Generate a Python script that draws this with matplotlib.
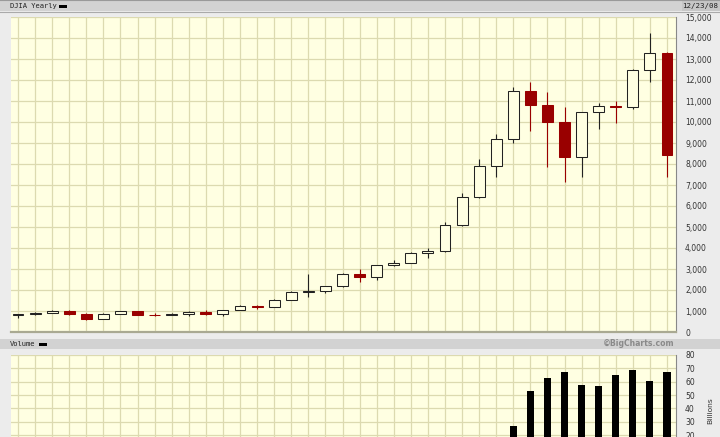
"""
DJIA anual (velas) con panel de volumen, estilo BigCharts.
"""

import matplotlib
matplotlib.use('Agg')
import matplotlib.pyplot as plt
import matplotlib.patches as mpatches
import numpy as np

# *** Datos ***
years = list(range(1970, 2009))

opens  = [800, 839, 890, 1020, 851, 616, 852, 1005, 831, 805,
          839, 964, 875, 1047, 1259, 1212, 1547, 1896, 1939, 2169,
          2753, 2634, 3169, 3301, 3754, 3834, 5117, 6448, 7908, 9181,
          11497, 10787, 10021, 8342, 10454, 10783, 10718, 12463, 13265]
highs  = [842, 950, 1036, 1052, 892, 882, 1015, 1005, 908, 898,
          1000, 1024, 1071, 1287, 1287, 1553, 1956, 2747, 2184, 2810,
          3016, 3190, 3429, 3794, 4016, 5230, 6619, 8259, 9430, 11650,
          11900, 11430, 10714, 10460, 10920, 10985, 12524, 14254, 13320]
lows   = [670, 790, 889, 788, 577, 600, 850, 800, 742, 797,
          759, 824, 770, 1028, 1087, 1185, 1502, 1652, 1843, 2140,
          2365, 2460, 3137, 3270, 3540, 3830, 5032, 6391, 7370, 8990,
          9550, 7870, 7157, 7397, 9650, 9937, 10619, 11890, 7365]
closes = [839, 890, 1020, 851, 616, 852, 1005, 831, 805, 839,
          964, 875, 1047, 1259, 1212, 1547, 1896, 1939, 2169, 2753,
          2634, 3169, 3301, 3754, 3834, 5117, 6448, 7908, 9181, 11497,
          10787, 10021, 8342, 10454, 10783, 10718, 12463, 13265, 8419]

# volumen en miles de millones (los anteriores a 1999 quedan fuera del recorte)
volumes = [0.5, 0.6, 0.7, 0.7, 0.7, 0.8, 1.0, 1.0, 1.2, 1.3,
           1.6, 1.7, 2.1, 2.5, 2.6, 3.0, 3.8, 4.6, 4.0, 4.2,
           4.3, 4.6, 5.1, 6.3, 6.8, 7.6, 9.3, 11.5, 14.0, 26.8,
           53.0, 62.5, 67.0, 57.5, 56.8, 64.8, 68.5, 60.8, 67.5]

price_ticks   = list(range(0, 15001, 1000))
volume_ticks  = list(range(0, 81, 10))
volume_labels = ["", "", "20", "30", "40", "50", "60", "70", "80"]

title_text  = "DJIA Yearly"
date_text   = "12/23/08"
volume_text = "Volume"
brand_text  = "©BigCharts.com"
unit_text   = "Billions"

# *** Estilo ***
W, H = 720, 437
BG      = "#ffffe2"
GRID    = "#dcdab0"
RED     = "#990000"
DARK    = "#222222"
PANEL   = "#ececec"
BAR     = "#d2d2d2"
TXT     = "#333333"


def fx(px):
    return px / W


def fy(py):
    return 1 - py / H


def axes_px(fig, left, top, right, bottom):
    return fig.add_axes([fx(left), fy(bottom), (right - left) / W, (bottom - top) / H])


fig = plt.figure(figsize=(W / 100, H / 100), dpi=100)
fig.patch.set_facecolor(PANEL)

# Barras de encabezado
fig.add_artist(mpatches.Rectangle((0, fy(11)), 1, 11 / H, transform=fig.transFigure,
                                  facecolor=BAR, edgecolor="none", zorder=0))
fig.add_artist(mpatches.Rectangle((fx(682), fy(11)), 38 / W, 11 / H, transform=fig.transFigure,
                                  facecolor="#c6c6c6", edgecolor="none", zorder=0))
fig.add_artist(plt.Line2D([0, 1], [fy(11.5), fy(11.5)], transform=fig.transFigure,
                          color="#aaaaaa", lw=0.8))
fig.add_artist(plt.Line2D([0, 1], [fy(0.3), fy(0.3)], transform=fig.transFigure,
                          color="#999999", lw=0.8))
fig.add_artist(mpatches.Rectangle((0, fy(349)), 1, 10 / H, transform=fig.transFigure,
                                  facecolor=BAR, edgecolor="none", zorder=0))

x = np.arange(len(years))
o = np.array(opens)
c = np.array(closes)
down = c < o

# *** Panel de precio ***
ax = axes_px(fig, 11, 17, 676, 332)
ax.set_facecolor(BG)
ax.set_xlim(-7 / 17.08, len(years) - 1 + 9 / 17.08)
ax.set_ylim(0, 15000)
ax.set_xticks(x)
ax.set_yticks(price_ticks)
ax.grid(True, color=GRID, lw=0.9, zorder=0)
ax.tick_params(length=0, labelbottom=False, labelleft=False, labelright=True,
               pad=6.5, labelsize=5.5, labelcolor=TXT)
ax.yaxis.set_ticks_position("right")
ax.set_yticklabels([f"{v:,}" for v in price_ticks])
for s in ("top", "left"):
    ax.spines[s].set_visible(False)
ax.spines["bottom"].set_color("#a9a992")
ax.spines["bottom"].set_linewidth(1.6)
ax.spines["right"].set_color("#888888")
ax.spines["right"].set_linewidth(0.8)

wick_col = [RED if d else DARK for d in down]
ax.vlines(x, lows, highs, colors=wick_col, lw=0.8, zorder=2)
body_bottom = np.minimum(o, c)
body_h = np.abs(c - o)
ax.bar(x, body_h, bottom=body_bottom, width=0.64,
       color=[RED if d else BG for d in down],
       edgecolor=wick_col, linewidth=0.75, zorder=3)

# *** Panel de volumen ***
av = axes_px(fig, 11, 355, 676, 461.7)
av.set_facecolor(BG)
av.set_xlim(ax.get_xlim())
av.set_ylim(0, 80)
av.set_xticks(x)
av.set_yticks(volume_ticks)
av.set_yticklabels(volume_labels)
av.grid(True, color=GRID, lw=0.9, zorder=0)
av.tick_params(length=0, labelbottom=False, labelleft=False, labelright=True,
               pad=6.5, labelsize=5.5, labelcolor=TXT)
av.yaxis.set_ticks_position("right")
for s in ("top", "left", "bottom"):
    av.spines[s].set_visible(False)
av.spines["right"].set_color("#888888")
av.spines["right"].set_linewidth(0.8)
av.bar(x, volumes, width=0.41, color="black", zorder=3)

# *** Textos ***
fig.text(fx(10), fy(6), title_text, family="DejaVu Sans Mono", fontsize=5.1,
         color=DARK, va="center", ha="left")
fig.add_artist(mpatches.Rectangle((fx(59), fy(7.5)), 8 / W, 2.5 / H, transform=fig.transFigure,
                                  facecolor="black", edgecolor="none"))
fig.text(fx(718), fy(6), date_text, family="DejaVu Sans Mono", fontsize=5.4,
         color=DARK, va="center", ha="right")

fig.text(fx(10), fy(344), volume_text, family="DejaVu Sans Mono", fontsize=5.1,
         color=DARK, va="center", ha="left")
fig.add_artist(mpatches.Rectangle((fx(39), fy(345.5)), 8 / W, 2.5 / H, transform=fig.transFigure,
                                  facecolor="black", edgecolor="none"))
fig.text(fx(675), fy(344), brand_text, fontsize=5.6, fontweight="bold",
         color="#8a8a8a", va="center", ha="right")

fig.text(fx(710), fy(411), unit_text, fontsize=5.4, color=TXT, rotation=90,
         va="center", ha="center")

fig.savefig("out.png", dpi=100, facecolor=fig.get_facecolor())
